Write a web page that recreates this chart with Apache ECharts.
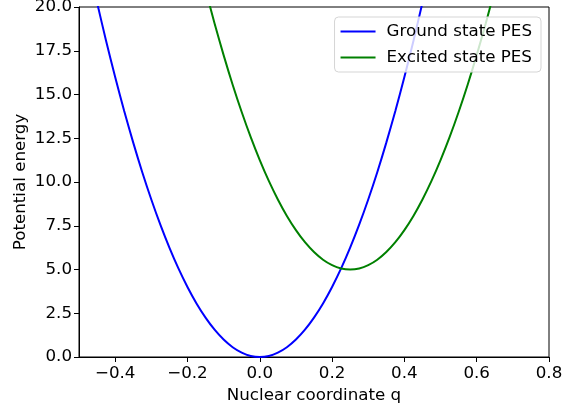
<!DOCTYPE html>
<html>
<head>
<meta charset="utf-8">
<script src="https://cdn.jsdelivr.net/npm/echarts@6/dist/echarts.min.js"></script>
<style>
  html, body { margin: 0; padding: 0; background: #fff; }
  #chart { width: 562px; height: 408px; }
</style>
</head>
<body>
<div id="chart"></div>
<script>
// Nuclear coordinate samples and potential energies of the two surfaces
const groundQ = [-0.45, -0.425, -0.4, -0.375, -0.35, -0.325, -0.3, -0.275, -0.25, -0.225, -0.2, -0.175, -0.15, -0.125, -0.1, -0.075, -0.05, -0.025, 0,
                 0.025, 0.05, 0.075, 0.1, 0.125, 0.15, 0.175, 0.2, 0.225, 0.25, 0.275, 0.3, 0.325, 0.35, 0.375, 0.4, 0.425, 0.45];
const groundE = [20.25, 18.06, 16.0, 14.06, 12.25, 10.56, 9.0, 7.56, 6.25, 5.06, 4.0, 3.06, 2.25, 1.56, 1.0, 0.56, 0.25, 0.06, 0,
                 0.06, 0.25, 0.56, 1.0, 1.56, 2.25, 3.06, 4.0, 5.06, 6.25, 7.56, 9.0, 10.56, 12.25, 14.06, 16.0, 18.06, 20.25];

const excitedQ = [-0.15, -0.125, -0.1, -0.075, -0.05, -0.025, 0, 0.025, 0.05, 0.075, 0.1, 0.125, 0.15, 0.175, 0.2, 0.225, 0.25,
                  0.275, 0.3, 0.325, 0.35, 0.375, 0.4, 0.425, 0.45, 0.475, 0.5, 0.525, 0.55, 0.575, 0.6, 0.625, 0.65];
const excitedE = [21.0, 19.06, 17.25, 15.56, 14.0, 12.56, 11.25, 10.06, 9.0, 8.06, 7.25, 6.56, 6.0, 5.56, 5.25, 5.06, 5.0,
                  5.06, 5.25, 5.56, 6.0, 6.56, 7.25, 8.06, 9.0, 10.06, 11.25, 12.56, 14.0, 15.56, 17.25, 19.06, 21.0];

const seriesNames = ['Ground state PES', 'Excited state PES'];
const xTicks = [-0.4, -0.2, 0.0, 0.2, 0.4, 0.6, 0.8];

const FONT = 'DejaVu Sans';
const FS = 16.7;
const toPairs = (xs, ys) => xs.map((x, i) => [x, ys[i]]);
const fmt = v => v.toFixed(1).replace('-', '\u2212');

const chart = echarts.init(document.getElementById('chart'), null, { renderer: 'canvas' });
chart.setOption({
  animation: false,
  backgroundColor: '#fff',
  textStyle: { fontFamily: FONT },
  grid: {
    left: 79, right: 13, top: 7, bottom: 51,
    outerBoundsMode: 'none',
    show: true, borderColor: '#000', borderWidth: 1, backgroundColor: 'transparent'
  },
  legend: {
    orient: 'vertical',
    right: 21,
    top: 17,
    padding: [6, 9, 6, 6],
    itemGap: 9,
    itemWidth: 35,
    itemHeight: 2,
    icon: 'rect',
    backgroundColor: 'rgba(255,255,255,0.8)',
    borderColor: '#d5d5d5',
    borderWidth: 1,
    borderRadius: 4,
    textStyle: { fontFamily: FONT, fontSize: FS, color: '#000', padding: [0, 0, 0, 6] },
    data: seriesNames
  },
  xAxis: {
    type: 'value',
    min: -0.5,
    max: 0.8,
    name: 'Nuclear coordinate q',
    nameLocation: 'middle',
    nameGap: 29,
    nameTextStyle: { fontFamily: FONT, fontSize: FS, color: '#000' },
    axisLine: { onZero: false, lineStyle: { color: '#000', width: 1 } },
    axisTick: { show: true, length: 5, lineStyle: { color: '#000' }, customValues: xTicks },
    axisLabel: { fontFamily: FONT, fontSize: FS, color: '#000', margin: 8, customValues: xTicks, formatter: fmt },
    splitLine: { show: false }
  },
  yAxis: {
    type: 'value',
    min: 0,
    max: 20,
    interval: 2.5,
    name: 'Potential energy',
    nameLocation: 'middle',
    nameGap: 50,
    nameMoveOverlap: false,
    nameTextStyle: { fontFamily: FONT, fontSize: FS, color: '#000' },
    axisLine: { show: true, onZero: false, lineStyle: { color: '#000', width: 1 } },
    axisTick: { show: true, length: 5, lineStyle: { color: '#000' } },
    axisLabel: { fontFamily: FONT, fontSize: FS, color: '#000', margin: 7, formatter: v => v.toFixed(1) },
    splitLine: { show: false }
  },
  series: [
    {
      name: seriesNames[0],
      type: 'line',
      data: toPairs(groundQ, groundE),
      smooth: 0.3,
      showSymbol: false,
      symbol: 'none',
      clip: true,
      color: '#0000ff',
      lineStyle: { color: '#0000ff', width: 2 }
    },
    {
      name: seriesNames[1],
      type: 'line',
      data: toPairs(excitedQ, excitedE),
      smooth: 0.3,
      showSymbol: false,
      symbol: 'none',
      clip: true,
      color: '#008000',
      lineStyle: { color: '#008000', width: 2 }
    }
  ]
});
</script>
</body>
</html>
